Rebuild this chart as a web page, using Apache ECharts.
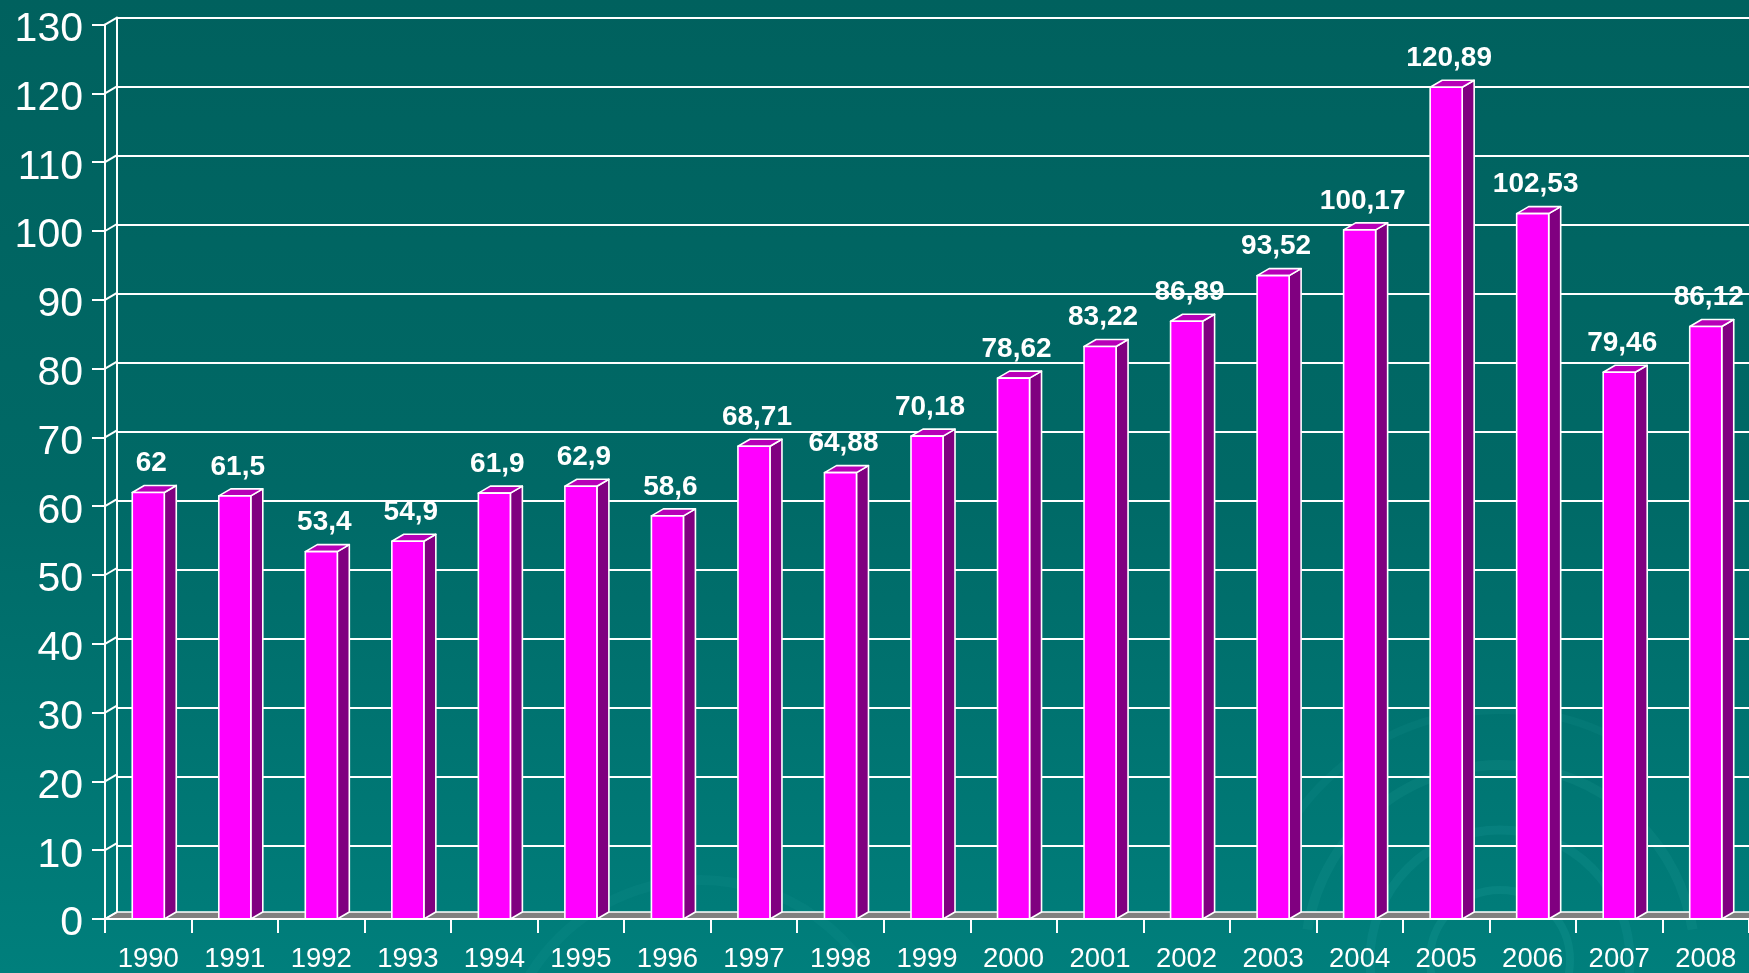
<!DOCTYPE html>
<html>
<head>
<meta charset="utf-8">
<script src="https://cdn.jsdelivr.net/npm/echarts@6/dist/echarts.min.js"></script>
<style>
html,body{margin:0;padding:0;background:#006864;}
#chart{width:1749px;height:973px;}
</style>
</head>
<body>
<div id="chart"></div>
<script>
const years = ['1990','1991','1992','1993','1994','1995','1996','1997','1998','1999','2000','2001','2002','2003','2004','2005','2006','2007','2008'];
const values = [62, 61.5, 53.4, 54.9, 61.9, 62.9, 58.6, 68.71, 64.88, 70.18, 78.62, 83.22, 86.89, 93.52, 100.17, 120.89, 102.53, 79.46, 86.12];
const valueLabels = ['62','61,5','53,4','54,9','61,9','62,9','58,6','68,71','64,88','70,18','78,62','83,22','86,89','93,52','100,17','120,89','102,53','79,46','86,12'];
const yTicks = [0,10,20,30,40,50,60,70,80,90,100,110,120,130];

const DX = 12, DY = 7;
const FONT = '"Liberation Sans", Arial, sans-serif';

const chart = echarts.init(document.getElementById('chart'), null, {renderer:'canvas'});

const option = {
  animation: false,
  backgroundColor: {
    type: 'linear', x: 0, y: 0, x2: 0, y2: 1,
    colorStops: [
      {offset: 0, color: '#00615E'},
      {offset: 0.5, color: '#006966'},
      {offset: 1, color: '#007F7C'}
    ]
  },
  graphic: [
    {type:'circle', silent:true, z:-10, shape:{cx:1500, cy:960, r:70}, style:{fill:'none', stroke:'rgba(40,170,165,0.18)', lineWidth:8}},
    {type:'circle', silent:true, z:-10, shape:{cx:1500, cy:960, r:130}, style:{fill:'none', stroke:'rgba(40,170,165,0.16)', lineWidth:9}},
    {type:'arc', silent:true, z:-10, shape:{cx:1500, cy:960, r:195, startAngle:Math.PI*1.05, endAngle:Math.PI*1.95}, style:{fill:'none', stroke:'rgba(40,170,165,0.14)', lineWidth:10}},
    {type:'arc', silent:true, z:-10, shape:{cx:1500, cy:960, r:250, startAngle:Math.PI*1.15, endAngle:Math.PI*1.7}, style:{fill:'none', stroke:'rgba(40,170,165,0.10)', lineWidth:8}},
    {type:'arc', silent:true, z:-10, shape:{cx:700, cy:1080, r:200, startAngle:Math.PI*1.1, endAngle:Math.PI*1.8}, style:{fill:'none', stroke:'rgba(40,170,165,0.10)', lineWidth:10}}
  ],
  grid: [
    {left: 105, right: -4, top: 24.6, bottom: 51, containLabel: false},
    {left: 105 + DX, right: -4 - DX, top: 24.6 - DY, bottom: 51 + DY, containLabel: false}
  ],
  xAxis: [
    {
      type: 'category', gridIndex: 0, data: years, boundaryGap: true, z: 10,
      axisLine: {show: true, lineStyle: {color: '#ffffff', width: 2}},
      axisTick: {show: true, length: 14, alignWithLabel: false, lineStyle: {color: '#ffffff', width: 2}},
      axisLabel: {color: '#ffffff', fontSize: 27.5, fontFamily: FONT, margin: 26, interval: 0},
      splitLine: {show: false}
    },
    {
      type: 'category', gridIndex: 1, data: years, boundaryGap: true, show: false
    }
  ],
  yAxis: [
    {
      type: 'value', gridIndex: 0, min: 0, max: 130, interval: 10, z: 10,
      axisLine: {show: true, lineStyle: {color: '#ffffff', width: 2}},
      axisTick: {show: true, length: 13, lineStyle: {color: '#ffffff', width: 2}},
      axisLabel: {color: '#ffffff', fontSize: 41, fontFamily: FONT, margin: 22,
        verticalAlign: 'top', lineHeight: 10},
      splitLine: {show: false}
    },
    {
      type: 'value', gridIndex: 1, min: 0, max: 130, interval: 10, z: 0,
      axisLine: {show: true, lineStyle: {color: '#ffffff', width: 2}},
      axisTick: {show: false},
      axisLabel: {show: false},
      splitLine: {show: true, lineStyle: {color: '#ffffff', width: 2}}
    }
  ],
  series: [
    {
      type: 'custom', name: 'frame', xAxisIndex: 0, yAxisIndex: 0, z: 1, silent: true,
      data: [[0, 0]],
      renderItem: function (params, api) {
        const cs = params.coordSys;
        const children = [];
        const y0 = api.coord([0, 0])[1];
        children.push({
          type: 'polygon',
          shape: {points: [[cs.x, y0], [cs.x + DX, y0 - DY], [cs.x + cs.width + DX, y0 - DY], [cs.x + cs.width, y0]]},
          style: {fill: '#808080', stroke: '#ffffff', lineWidth: 1.5}
        });
        yTicks.forEach(function (t) {
          const yy = api.coord([0, t])[1];
          children.push({
            type: 'line',
            shape: {x1: cs.x, y1: yy, x2: cs.x + DX, y2: yy - DY},
            style: {stroke: '#ffffff', lineWidth: 2}
          });
        });
        return {type: 'group', children: children};
      }
    },
    {
      type: 'custom', name: 'bars', xAxisIndex: 0, yAxisIndex: 0, z: 2,
      data: values.map(function (v, i) { return [i, v]; }),
      encode: {x: 0, y: 1},
      renderItem: function (params, api) {
        const i = api.value(0), v = api.value(1);
        const top = api.coord([i, v]);
        const base = api.coord([i, 0]);
        const w = api.size([1, 0])[0];
        const hw = w * 0.185;
        const cx = top[0];
        const ty = top[1], by = base[1];
        const stroke = {stroke: '#ffffff', lineWidth: 1.6, lineJoin: 'round'};
        return {
          type: 'group',
          children: [
            {type: 'polygon', shape: {points: [[cx + hw, ty], [cx + hw + DX, ty - DY], [cx + hw + DX, by - DY], [cx + hw, by]]},
              style: Object.assign({fill: '#800080'}, stroke)},
            {type: 'polygon', shape: {points: [[cx - hw, ty], [cx - hw + DX, ty - DY], [cx + hw + DX, ty - DY], [cx + hw, ty]]},
              style: Object.assign({fill: '#B800B8'}, stroke)},
            {type: 'rect', shape: {x: cx - hw, y: ty, width: 2 * hw, height: by - ty},
              style: Object.assign({fill: '#FF00FF'}, stroke)},
            {type: 'text', z2: 10,
              style: {text: valueLabels[params.dataIndex], x: cx + 3, y: ty - DY - 22,
                align: 'center', verticalAlign: 'middle',
                fill: '#ffffff', font: 'bold 28px ' + FONT}}
          ]
        };
      }
    }
  ]
};
chart.setOption(option);
</script>
</body>
</html>
